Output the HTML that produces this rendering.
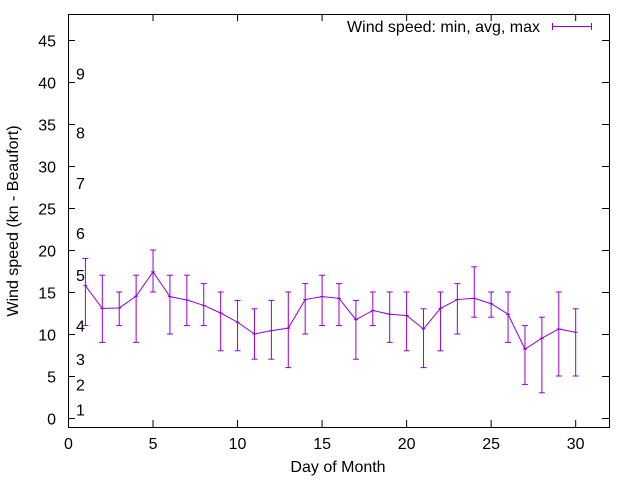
<!DOCTYPE html>
<html><head><meta charset="utf-8"><style>body{margin:0;background:#fff}svg{display:block}text{font-family:"Liberation Sans",sans-serif;font-size:16px;fill:#000}</style></head>
<body>
<svg id="chart" width="640" height="480" xmlns="http://www.w3.org/2000/svg">
<rect x="68.5" y="14.5" width="541" height="413" fill="none" stroke="#000" stroke-width="1"/>
<g id="axes"></g><g id="beaufort"></g><g id="series"></g>
<text x="338" y="472" text-anchor="middle">Day of Month</text>
<text transform="translate(18,221) rotate(-90)" text-anchor="middle">Wind speed (kn - Beaufort)</text>
<g>
<text x="540" y="32" text-anchor="end">Wind speed: min, avg, max</text>
<line x1="552" y1="26.5" x2="592" y2="26.5" stroke="#9400d3"/>
<line x1="552.5" y1="23" x2="552.5" y2="30" stroke="#9400d3"/>
<line x1="591.5" y1="23" x2="591.5" y2="30" stroke="#9400d3"/>
</g>
</svg>
<script>
const days=[1,2,3,4,5,6,7,8,9,10,11,12,13,14,15,16,17,18,19,20,21,22,23,24,25,26,27,28,29,30];
const avgSpeed=[15.75,13.05,13.1,14.5,17.4,14.45,14.05,13.4,12.5,11.4,10.0,10.4,10.7,14.1,14.45,14.25,11.7,12.8,12.35,12.2,10.6,13.05,14.1,14.25,13.6,12.35,8.2,9.5,10.6,10.2];
const minSpeed=[11,9,11,9,15,10,11,11,8,8,7,7,6,10,11,11,7,11,9,8,6,8,10,12,12,9,4,3,5,5];
const maxSpeed=[19,17,15,17,20,17,17,16,15,14,13,14,15,16,17,16,14,15,15,15,13,15,16,18,15,15,11,12,15,13];
const xTicks=[0,5,10,15,20,25,30];
const yTicks=[0,5,10,15,20,25,30,35,40,45];
const beaufortLevels=[1,4,7,11,17,22,28,34,41];
const beaufortLabels=["1","2","3","4","5","6","7","8","9"];
const X=v=>68.5+(v/32)*541, Y=v=>418-v*8.4;
const NS="http://www.w3.org/2000/svg";
function mk(tag,attrs,parent,txt){const e=document.createElementNS(NS,tag);for(const k in attrs)e.setAttribute(k,attrs[k]);if(txt!==undefined)e.textContent=txt;parent.appendChild(e);return e;}
const ax=document.getElementById('axes');
xTicks.forEach(t=>{const x=X(t);
const g=mk('g',{},ax);


mk('line',{x1:x,y1:427,x2:x,y2:420,stroke:'#000'},g);
mk('line',{x1:x,y1:14,x2:x,y2:21,stroke:'#000'},g);
mk('text',{x:x,y:449,'text-anchor':'middle'},g,String(t));});
yTicks.forEach(t=>{const y=Y(t)+0.5;
const g=mk('g',{},ax);


mk('line',{x1:68,y1:y,x2:75,y2:y,stroke:'#000'},g);
mk('line',{x1:609,y1:y,x2:602,y2:y,stroke:'#000'},g);
mk('text',{x:56,y:y+6,'text-anchor':'end'},g,String(t));});
const bf=document.getElementById('beaufort');
beaufortLevels.forEach((v,i)=>{const t=mk('text',{x:76,y:Y(v)+6},bf,beaufortLabels[i]);

});
const s=document.getElementById('series');
const line=mk('polyline',{points:days.map((d,i)=>X(d)+','+Y(avgSpeed[i])).join(' '),fill:'none',stroke:'#9400d3','stroke-width':1},s);


days.forEach((d,i)=>{const x=X(d);const g=mk('g',{stroke:'#9400d3','stroke-width':1},s);


mk('line',{x1:x,y1:Y(minSpeed[i]),x2:x,y2:Y(maxSpeed[i])},g);
mk('line',{x1:x-3,y1:Y(minSpeed[i]),x2:x+3,y2:Y(minSpeed[i])},g);
mk('line',{x1:x-3,y1:Y(maxSpeed[i]),x2:x+3,y2:Y(maxSpeed[i])},g);
mk('line',{x1:x-2,y1:Y(avgSpeed[i]),x2:x+2,y2:Y(avgSpeed[i])},g);});
</script>
</body></html>
